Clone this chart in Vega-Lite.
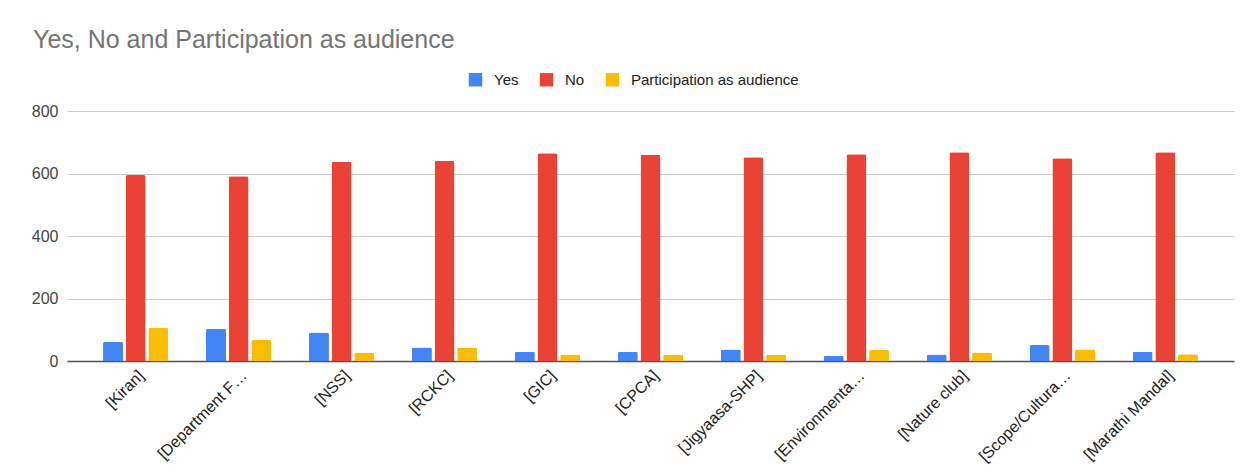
{
  "$schema": "https://vega.github.io/schema/vega-lite/v6.json",
  "width": 1167,
  "height": 250,
  "autosize": {"type": "none"},
  "padding": {"left": 67, "top": 111, "right": 23, "bottom": 115},
  "background": "white",
  "title": {
    "text": "Yes, No and Participation as audience",
    "anchor": "start",
    "frame": "group",
    "dx": -34,
    "offset": 19,
    "fontSize": 25,
    "fontWeight": "normal",
    "font": "Liberation Sans",
    "color": "#757575"
  },
  "data": {
    "values": [
      {"club": "[Kiran]", "series": "Yes", "value": 62},
      {"club": "[Kiran]", "series": "No", "value": 595},
      {"club": "[Kiran]", "series": "Participation as audience", "value": 106},
      {"club": "[Department F…", "series": "Yes", "value": 103},
      {"club": "[Department F…", "series": "No", "value": 591},
      {"club": "[Department F…", "series": "Participation as audience", "value": 67},
      {"club": "[NSS]", "series": "Yes", "value": 91},
      {"club": "[NSS]", "series": "No", "value": 638},
      {"club": "[NSS]", "series": "Participation as audience", "value": 27},
      {"club": "[RCKC]", "series": "Yes", "value": 43},
      {"club": "[RCKC]", "series": "No", "value": 641},
      {"club": "[RCKC]", "series": "Participation as audience", "value": 43},
      {"club": "[GIC]", "series": "Yes", "value": 30},
      {"club": "[GIC]", "series": "No", "value": 665},
      {"club": "[GIC]", "series": "Participation as audience", "value": 21},
      {"club": "[CPCA]", "series": "Yes", "value": 30},
      {"club": "[CPCA]", "series": "No", "value": 660},
      {"club": "[CPCA]", "series": "Participation as audience", "value": 21},
      {"club": "[Jigyaasa-SHP]", "series": "Yes", "value": 37},
      {"club": "[Jigyaasa-SHP]", "series": "No", "value": 652},
      {"club": "[Jigyaasa-SHP]", "series": "Participation as audience", "value": 21},
      {"club": "[Environmenta…", "series": "Yes", "value": 17},
      {"club": "[Environmenta…", "series": "No", "value": 662},
      {"club": "[Environmenta…", "series": "Participation as audience", "value": 35},
      {"club": "[Nature club]", "series": "Yes", "value": 21},
      {"club": "[Nature club]", "series": "No", "value": 668},
      {"club": "[Nature club]", "series": "Participation as audience", "value": 27},
      {"club": "[Scope/Cultura…", "series": "Yes", "value": 51},
      {"club": "[Scope/Cultura…", "series": "No", "value": 649},
      {"club": "[Scope/Cultura…", "series": "Participation as audience", "value": 37},
      {"club": "[Marathi Mandal]", "series": "Yes", "value": 30},
      {"club": "[Marathi Mandal]", "series": "No", "value": 668},
      {"club": "[Marathi Mandal]", "series": "Participation as audience", "value": 22}
    ]
  },
  "mark": {"type": "bar", "cornerRadiusTopLeft": 2, "cornerRadiusTopRight": 2},
  "encoding": {
    "x": {
      "field": "club",
      "type": "nominal",
      "sort": null,
      "title": null,
      "scale": {"paddingInner": 0.366, "paddingOuter": 0.35},
      "axis": {
        "labelAngle": -45,
        "labelAlign": "right",
        "labelBaseline": "top",
        "labelFont": "Liberation Sans",
        "labelFontSize": 16,
        "labelColor": "#222222",
        "labelPadding": 6,
        "labelLimit": 300,
        "ticks": false,
        "domainColor": "#555555",
        "domainWidth": 1.5,
        "grid": false
      }
    },
    "xOffset": {
      "field": "series",
      "type": "nominal",
      "sort": ["Yes", "No", "Participation as audience"],
      "scale": {"paddingInner": 0.117, "paddingOuter": 0}
    },
    "y": {
      "field": "value",
      "type": "quantitative",
      "title": null,
      "scale": {"domain": [0, 800]},
      "axis": {
        "values": [0, 200, 400, 600, 800],
        "labelFont": "Liberation Sans",
        "labelFontSize": 16,
        "labelColor": "#444444",
        "labelPadding": 9,
        "ticks": false,
        "domain": false,
        "gridColor": "#cccccc",
        "gridWidth": 1
      }
    },
    "color": {
      "field": "series",
      "type": "nominal",
      "sort": ["Yes", "No", "Participation as audience"],
      "scale": {
        "domain": ["Yes", "No", "Participation as audience"],
        "range": ["#4285F4", "#EA4335", "#FBBC04"]
      },
      "legend": {
        "title": null,
        "orient": "none",
        "direction": "horizontal",
        "legendX": 401,
        "legendY": -39,
        "symbolType": "square",
        "symbolSize": 180,
        "symbolStrokeWidth": 0,
        "labelFont": "Liberation Sans",
        "labelFontSize": 15,
        "labelLimit": 400,
        "labelColor": "#222222",
        "labelOffset": 11,
        "columnPadding": 20
      }
    }
  },
  "config": {"view": {"stroke": null}}
}
